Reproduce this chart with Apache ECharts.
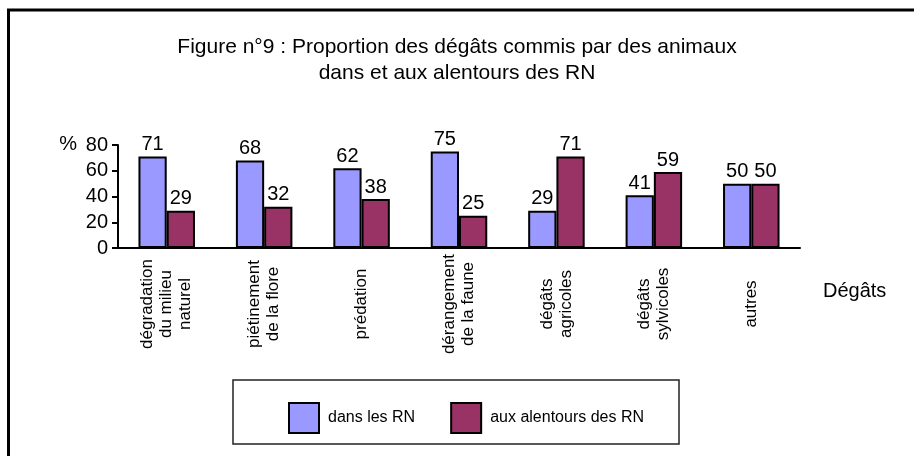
<!DOCTYPE html>
<html>
<head>
<meta charset="utf-8">
<script src="https://cdn.jsdelivr.net/npm/echarts@6/dist/echarts.min.js"></script>
<style>html,body{margin:0;padding:0;background:#fff}#c{width:914px;height:456px}</style>
</head>
<body>
<div id="c"></div>
<script>
var titleText = "Figure n°9 : Proportion des dégâts commis par des animaux\ndans et aux alentours des RN";
var categories = ["dégradation\ndu milieu\nnaturel", "piétinement\nde la flore", "prédation", "dérangement\nde la faune", "dégâts\nagricoles", "dégâts\nsylvicoles", "autres"];
var seriesNames = ["dans les RN", "aux alentours des RN"];
var dansRN = [71, 68, 62, 75, 29, 41, 50];
var alentoursRN = [29, 32, 38, 25, 71, 59, 50];
var yTicks = [0, 20, 40, 60, 80];
var yName = "%";
var xName = "Dégâts";

var FONT = "'Liberation Sans', Arial, sans-serif";
var chart = echarts.init(document.getElementById('c'));
chart.setOption({
  backgroundColor: '#ffffff',
  animation: false,
  textStyle: {fontFamily: FONT, color: '#000'},
  title: {
    text: titleText,
    left: 'center',
    top: 29,
    textStyle: {fontFamily: FONT, fontSize: 21, fontWeight: 'normal', lineHeight: 26, color: '#000'}
  },
  legend: {
    left: 283,
    top: 397,
    itemWidth: 30,
    itemHeight: 30,
    itemGap: 35,
    icon: 'rect',
    data: seriesNames,
    itemStyle: {borderColor: '#000', borderWidth: 2},
    textStyle: {fontFamily: FONT, fontSize: 16, color: '#000', padding: [3, 0, 0, 4]}
  },
  grid: {left: 118, right: 114, top: 145, bottom: 208},
  xAxis: {
    type: 'category',
    data: categories,
    name: xName,
    nameLocation: 'end',
    nameGap: 23,
    nameMoveOverlap: false,
    nameTextStyle: {fontFamily: FONT, fontSize: 20, lineHeight: 22, color: '#000', align: 'left', verticalAlign: 'top', padding: [32, 0, 0, 0]},
    axisLine: {lineStyle: {color: '#000', width: 2}},
    axisTick: {show: false},
    axisLabel: {
      interval: 0,
      rotate: 90,
      margin: 7,
      color: '#000',
      formatter: function (v) {
        return v.split('\n').map(function (s) { return '{c|' + s + '}'; }).join('\n');
      },
      rich: {c: {width: 98, align: 'center', fontSize: 17, lineHeight: 19, fontFamily: FONT, color: '#000'}}
    },
    splitLine: {show: false}
  },
  yAxis: {
    type: 'value',
    min: yTicks[0],
    max: yTicks[yTicks.length - 1],
    interval: yTicks[1] - yTicks[0],
    name: yName,
    nameLocation: 'end',
    nameGap: 1,
    nameTextStyle: {fontFamily: FONT, fontSize: 20, color: '#000', align: 'right', verticalAlign: 'middle', padding: [0, 41, 0, 0]},
    axisLine: {show: true, lineStyle: {color: '#000', width: 2}},
    axisTick: {show: true, length: 6, lineStyle: {color: '#000', width: 2}},
    axisLabel: {fontFamily: FONT, fontSize: 20, color: '#000', margin: 10},
    splitLine: {show: false}
  },
  series: [
    {
      name: seriesNames[0],
      type: 'bar',
      data: dansRN,
      barGap: '0%',
      barCategoryGap: '42%',
      itemStyle: {color: '#9999FF', borderColor: '#000', borderWidth: 2},
      label: {show: true, position: 'top', distance: 2, fontFamily: FONT, fontSize: 20, color: '#000'}
    },
    {
      name: seriesNames[1],
      type: 'bar',
      data: alentoursRN,
      barGap: '0%',
      barCategoryGap: '42%',
      itemStyle: {color: '#993366', borderColor: '#000', borderWidth: 2},
      label: {show: true, position: 'top', distance: 2, fontFamily: FONT, fontSize: 20, color: '#000'}
    }
  ],
  graphic: [
    {type: 'line', shape: {x1: 7, y1: 10, x2: 914, y2: 10}, style: {stroke: '#000', lineWidth: 3}},
    {type: 'line', shape: {x1: 8.5, y1: 9, x2: 8.5, y2: 456}, style: {stroke: '#000', lineWidth: 3}},
    {type: 'rect', shape: {x: 233, y: 380, width: 446, height: 64}, style: {fill: 'none', stroke: '#222', lineWidth: 1.5}}
  ]
});
</script>
</body>
</html>
